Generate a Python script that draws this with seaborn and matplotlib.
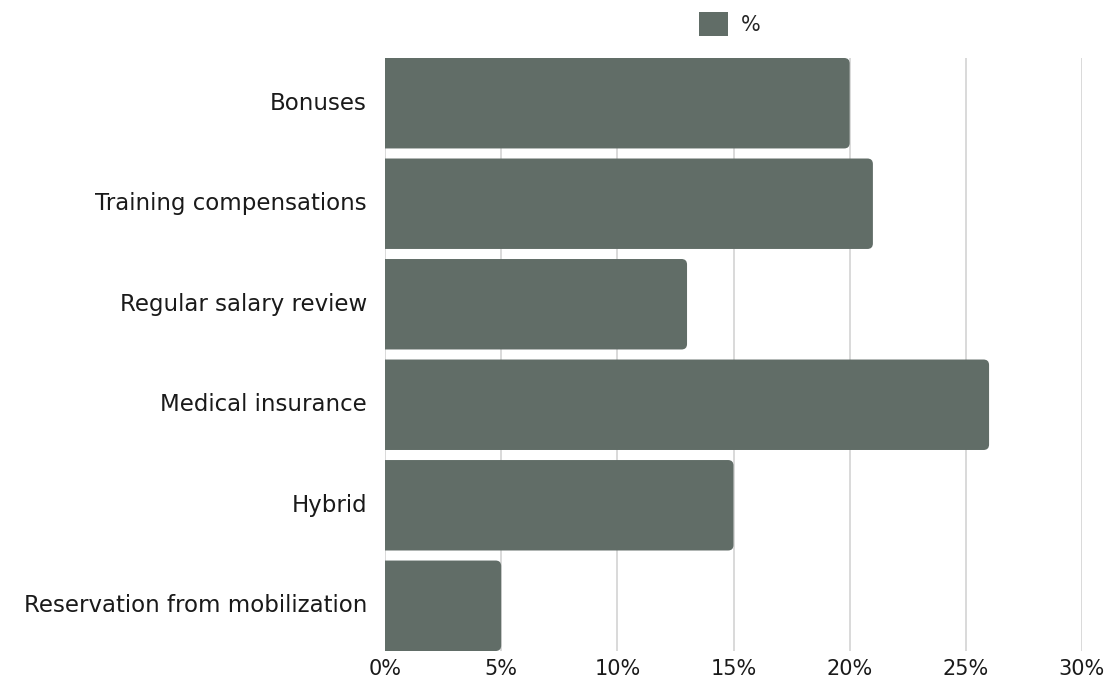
import matplotlib
matplotlib.use("Agg")
import matplotlib.pyplot as plt
import seaborn as sns
import pandas as pd
from matplotlib.patches import FancyBboxPatch, Patch
from matplotlib.ticker import FuncFormatter, MultipleLocator

categories = ["Bonuses", "Training compensations", "Regular salary review",
              "Medical insurance", "Hybrid", "Reservation from mobilization"]
values = [20, 21, 13, 26, 15, 5]
series_name = "%"
bar_color = "#616d67"

df = pd.DataFrame({"category": categories, "value": values})

sns.set_theme(style="white")
plt.rcParams["font.family"] = ["DejaVu Sans"]

fig = plt.figure(figsize=(11.09, 6.86), dpi=100)
ax = fig.add_axes([385/1109, 35/686, (1082-385)/1109, (651-58)/686])

sns.barplot(data=df, x="value", y="category", color=bar_color, width=0.9,
            saturation=1, ax=ax, zorder=3)

ax.set_xlim(0, 30)
ax.set_ylim(len(categories) - 0.55, -0.45)

# rounded right corners
px_per_x = (1082 - 385) / 30.0
px_per_y = (651 - 58) / (len(categories) - 0.1)
r_px = 5.5
rx = r_px / px_per_x
aspect = px_per_x / px_per_y
for p in list(ax.patches):
    x0, y0 = p.get_x(), p.get_y()
    w, h = p.get_width(), p.get_height()
    p.set_visible(False)
    ry = rx * aspect
    fb = FancyBboxPatch((x0, y0 + ry), w - rx, h - 2 * ry,
                        boxstyle=f"round,pad={rx}", mutation_aspect=aspect,
                        facecolor=bar_color, edgecolor="none", zorder=3)
    ax.add_patch(fb)

ax.xaxis.set_major_locator(MultipleLocator(5))
ax.xaxis.set_major_formatter(FuncFormatter(lambda v, _: f"{v:.0f}%"))
ax.grid(axis="x", color="#d3d3d3", linewidth=1.2, zorder=0)
ax.grid(axis="y", visible=False)
for s in ax.spines.values():
    s.set_visible(False)
ax.set_xlabel("")
ax.set_ylabel("")
ax.tick_params(axis="x", length=0, pad=6, labelsize=15, labelcolor="#1a1a1a")
ax.tick_params(axis="y", length=0, pad=13, labelsize=16.5, labelcolor="#1a1a1a")
for t in ax.get_yticklabels():
    t.set_verticalalignment("center")

fig.legend(handles=[Patch(facecolor=bar_color, edgecolor="none")], labels=[series_name],
           loc="center", bbox_to_anchor=(730/1109, 1 - 24/686), frameon=False,
           fontsize=15, handlelength=1.4, handleheight=1.4, handletextpad=0.6)

fig.savefig("out.png", dpi=100, facecolor="white")
